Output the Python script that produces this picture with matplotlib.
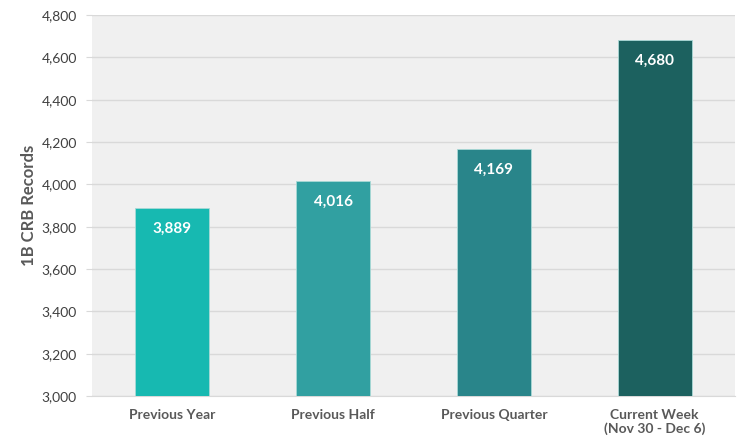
import matplotlib.pyplot as plt
import numpy as np
from matplotlib.ticker import FuncFormatter

categories = ["Previous Year", "Previous Half", "Previous Quarter", "Current Week\n(Nov 30 - Dec 6)"]
values = [3889, 4016, 4169, 4680]
colors = ["#17b9b1", "#31a0a1", "#29858a", "#1c615f"]

plt.rcParams["font.family"] = ["Lato", "DejaVu Sans"]

fig = plt.figure(figsize=(7.5, 4.48), dpi=100)
ax = fig.add_axes([0.1227, 0.116, 0.8573, 0.8505])
ax.set_facecolor("#f0f0f0")

x = np.arange(len(categories))
bars = ax.bar(x, values, width=0.46, color=colors, edgecolor="#a9d9d6", linewidth=0.6, zorder=3)

for bar, v in zip(bars, values):
    ax.annotate(f"{v:,}", (bar.get_x() + bar.get_width() / 2, v),
                xytext=(0, -15), textcoords="offset points", ha="center", va="center",
                color="white", fontsize=11, fontweight="bold", zorder=4)

ax.set_xlim(-0.5, len(categories) - 0.5)
ax.set_ylim(3000, 4800)
ax.set_yticks(np.arange(3000, 4801, 200))
ax.yaxis.set_major_formatter(FuncFormatter(lambda v, p: f"{int(v):,}"))
ax.grid(axis="y", color="#d9d9d9", linewidth=1, zorder=0)

ax.set_xticks(x)
ax.set_xticklabels(categories, fontsize=10, fontweight="bold", color="#595959")
ax.tick_params(axis="x", length=0, pad=9)
ax.tick_params(axis="y", length=4, color="#d9d9d9", labelsize=10, labelcolor="#404040", pad=7)

for side in ["top", "right", "left"]:
    ax.spines[side].set_visible(False)
ax.spines["bottom"].set_color("#d9d9d9")

ax.set_ylabel("1B CRB Records", fontsize=12, fontweight="bold", color="#595959", labelpad=3)

fig.savefig("out.png", dpi=100, facecolor="white")
